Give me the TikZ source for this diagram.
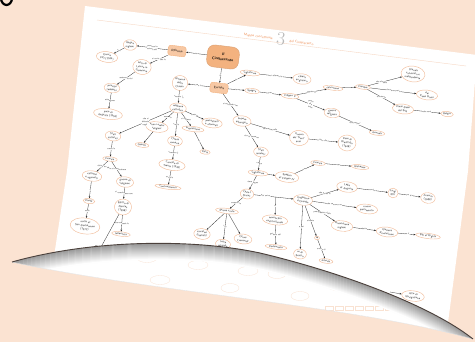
\documentclass[tikz,border=0pt]{standalone}
\usepackage{amsmath}
\usetikzlibrary{shapes.geometric,arrows.meta}

\definecolor{peach}{HTML}{FBE3D2}
\definecolor{ringline}{HTML}{F2BE9C}
\definecolor{softfill}{HTML}{F7C8A4}
\definecolor{bigfill}{HTML}{F3B27F}
\definecolor{titleorange}{HTML}{EE8A4E}
\definecolor{foldline}{HTML}{4B403B}

% fold of the curled page and its lower edge
\newcommand{\foldline}{(12,262) .. controls (90,240) and (190,238) .. (260,253) .. controls (340,272) and (430,305) .. (473,339)}
\newcommand{\curlback}{.. controls (350,305) and (150,292) .. (12,262)}

\tikzset{
  concept/.style={ellipse, draw=ringline, line width=0.45pt, fill=white, inner sep=0.6pt,
    align=center, font=\sffamily\fontsize{2.8}{3.7}\selectfont, text=black!85, rotate=-7},
  mainbox/.style={rounded corners=2.5pt, draw=bigfill, fill=softfill, line width=0.4pt,
    minimum width=18pt, minimum height=10pt, inner sep=1pt,
    font=\sffamily\fontsize{3.2}{3.6}\selectfont, rotate=-7},
  bigbox/.style={rounded corners=7pt, draw=bigfill!90!black, fill=bigfill, line width=0.4pt,
    minimum width=32pt, minimum height=22pt, align=center,
    font=\sffamily\bfseries\fontsize{3.8}{5}\selectfont, rotate=-7},
  link/.style={->, >={Stealth[length=2pt,width=1.5pt]}, line width=0.28pt, black!85},
  lbl/.style={font=\sffamily\fontsize{2.2}{3}\selectfont, fill=white, inner sep=0.2pt,
    align=center, rotate=-7, text=black!80},
  faint/.style={draw=ringline!45, line width=0.3pt},
}

\begin{document}
\begin{tikzpicture}[x=1pt,y=-1pt]
        \useasboundingbox (0,0) rectangle (475,342);

        % Background and sheet
        \fill[peach] (0,0) rectangle (475,342);
        \draw[line width=2.2pt] (6.5,-2) ellipse [x radius=5.5, y radius=7];
        \fill[white] (85,6) -- (477,55) -- (468,171) -- (449,315) -- (445,345)
                     -- (50,345) -- (55,250) -- (67,171) -- cycle;

        % Title
        \draw[ringline!60, line width=0.4pt] (97,20) -- (466,66);
        \node[font=\fontsize{19}{19}\selectfont, text=gray!55, rotate=-7] (num) at (281,39) {3};
        \node[font=\sffamily\fontsize{3.4}{4}\selectfont, text=titleorange, rotate=-7, anchor=east]
             (title) at (276,39) {Mappa concettuale};
        \node[font=\sffamily\fontsize{3.4}{4}\selectfont, text=titleorange, rotate=-7, anchor=west]
             (subtitle) at (286,41) {del Cinquecento};

        % Central nodes
        \node[bigbox] (age) at (223,57) {Il\\Cinquecento};
        \node[mainbox] (rif) at (177,51) {Riforma};
        \node[mainbox] (eur) at (219,88) {Europa};
        \draw[link] (age) -- node[lbl] {in} (rif);
        \draw[link] (age) -- node[lbl] {in} (eur);

        % Riforma branch
        \node[concept] (ing) at (130,45) {Regno\\inglese};
        \node[concept] (enr) at (107,57) {Enrico\\VIII (1534)};
        \node[concept] (lut) at (142,67) {lotta di\\Lutero in\\Germania};
        \node[concept] (pri) at (112,88) {principi\\tedeschi};
        \node[concept] (aug) at (108,114) {pace di\\Augusta (1555)};
        \draw[link] (rif) -- node[lbl] {provoca lo\\scisma del} (ing);
        \draw[link] (ing) -- node[lbl] {con} (enr);
        \draw[link] (rif) -- node[lbl] {si avvia con la} (lut);
        \draw[link] (lut) -- node[lbl] {sostenuta dai} (pri);
        \draw[link] (pri) -- node[lbl] {ottengono} (aug);

        % Chiesa branch
        \node[concept] (cat) at (180,83) {Riforma\\della\\Chiesa};
        \node[concept] (rel) at (178,108) {religione\\cattolica};
        \node[concept] (ted) at (113,136) {Stati\\cattolici};
        \node[concept] (ide) at (157,127) {nuovi ordini\\religiosi};
        \node[concept] (ges) at (142,145) {Gesuiti};
        \node[concept] (chi) at (175,141) {Chiesa\\romana};
        \node[concept] (con) at (172,165) {Concilio di\\Trento (1545)};
        \node[concept] (ctr) at (168,187) {Controriforma};
        \node[concept] (inq) at (193,129) {Inquisizione};
        \node[concept] (ita) at (205,152) {Italia};
        \node[concept] (pro) at (212,123) {protestanti\\e riformati};
        \draw[link] (eur) -- node[lbl] {con la} (cat);
        \draw[link] (cat) -- node[lbl] {rinnova la} (rel);
        \draw[link] (rel) -- node[lbl] {che si\\difende\\negli} (ted);
        \draw[link] (rel) -- node[lbl] {nascono} (ide);
        \draw[link] (ide) -- (ges);
        \draw[link] (rel) -- node[lbl] {con la} (chi);
        \draw[link] (chi) -- node[lbl] {convoca il} (con);
        \draw[link] (con) -- node[lbl] {avvia la} (ctr);
        \draw[link] (rel) -- node[lbl] {si rafforza} (inq);
        \draw[link] (inq) -- node[lbl] {in} (ita);
        \draw[link] (rel) -- node[lbl] {contro} (pro);

        % Francia branch
        \node[concept] (fra) at (110,159) {Francia};
        \node[concept] (ugo) at (92,176) {cattolici\\e ugonotti};
        \node[concept] (gue) at (125,182) {guerre di\\religione};
        \node[concept] (par1) at (89,201) {Parigi};
        \node[concept] (bar) at (85,226) {notte di\\San Bartolomeo\\(1572)};
        \node[concept] (edi) at (123,207) {Editto di\\Nantes\\(1598)};
        \node[concept] (tol) at (121,234) {tolleranza};
        \coordinate (ugl) at (95,258);
        \draw[link] (ted) -- node[lbl] {come la} (fra);
        \draw[link] (fra) -- node[lbl] {divisa tra} (ugo);
        \draw[link] (fra) -- node[lbl] {dove si combattono} (gue);
        \draw[link] (ugo) -- node[lbl] {a} (par1);
        \draw[link] (par1) -- node[lbl] {nella} (bar);
        \draw[link] (gue) -- node[lbl] {si concludono con} (edi);
        \draw[link] (edi) -- node[lbl] {che concede la} (tol);
        \draw[link] (edi) -- node[lbl, pos=0.75] {agli ugonotti} (ugl);

        % Inghilterra and Spagna
        \node[concept] (ingh) at (250,73) {Inghilterra};
        \node[concept] (ang) at (302,79) {chiesa\\anglicana};
        \node[concept] (spg) at (252,91) {Spagna};
        \node[concept] (fil) at (290,96) {Filippo II};
        \node[concept] (cal) at (333,88) {calvinismo};
        \node[concept] (fia) at (363,87) {Fiandre};
        \node[concept] (ola) at (413,74) {Olanda\\calvinista e\\indipendente};
        \node[concept] (pbx) at (427,95) {dei\\Paesi Bassi};
        \node[concept] (pbs) at (403,109) {Paesi Bassi\\del Sud};
        \node[concept] (bel) at (447,114) {Belgio};
        \node[concept] (gr) at (332,113) {guerra\\religiosa};
        \node[concept] (arm) at (377,133) {Armada};
        \draw[link] (eur) -- node[lbl] {in} (ingh);
        \draw[link] (ingh) -- node[lbl] {si afferma la} (ang);
        \draw[link] (eur) -- node[lbl] {in} (spg);
        \draw[link] (spg) -- node[lbl] {con} (fil);
        \draw[link] (fil) -- node[lbl] {contro il} (cal);
        \draw[link] (cal) -- (fia);
        \draw[link] (fia) -- node[lbl, pos=0.4] {che diventa} (ola);
        \draw[link] (fia) -- node[lbl] {che sono parte} (pbx);
        \draw[link] (fia) -- node[lbl] {e restano} (pbs);
        \draw[link] (pbs) -- node[lbl] {che sar\`a} (bel);
        \draw[link] (fil) -- node[lbl] {porta\\alle\\lotte} (gr);
        \draw[link] (gr) -- node[lbl] {che perde l'} (arm);

        % Impero and Stati assoluti
        \node[concept] (imp) at (242,121) {Impero\\asburgico};
        \node[concept] (gta) at (299,138) {Guerra\\dei Trent'\\anni};
        \node[concept] (pw) at (347,143) {Pace di\\Westfalia\\(1648)};
        \node[concept] (sa) at (261,152) {Stati\\assoluti};
        \node[concept] (sp2) at (258,173) {Inghilterra};
        \node[concept] (rin) at (287,177) {Spagna\\di Filippo IV};
        \node[concept] (frn) at (318,163) {Francia};
        \node[concept] (ric) at (360,167) {Richelieu};
        \draw[link] (eur) -- node[lbl] {si conclude con} (imp);
        \draw[link] (imp) -- node[lbl] {coinvolto nella} (gta);
        \draw[link] (gta) -- node[lbl] {fino alla} (pw);
        \draw[link] (imp) -- node[lbl] {da cui nascono} (sa);
        \draw[link] (sa) -- node[lbl] {come} (sp2);
        \draw[link] (sp2) -- node[lbl] {e} (rin);
        \draw[link] (rin) -- node[lbl] {e} (frn);
        \draw[link] (frn) -- node[lbl] {con} (ric);

        % Stuart and Orange
        \node[concept] (car) at (247,194) {Carlo I\\Stuart};
        \node[concept] (gug) at (303,200) {Guglielmo\\d'Orange};
        \node[concept] (mon) at (275,220) {monarchia\\costituzionale};
        \node[concept] (parl) at (276,247) {Parlamento};
        \node[concept] (dov) at (347,187) {Lega\\di Augusta};
        \node[concept] (lui) at (393,193) {Luigi\\XIV};
        \node[concept] (fr2) at (428,198) {Francia\\(1688)};
        \node[concept] (nuo) at (367,209) {nuovo\\parlamento};
        \node[concept] (riv) at (342,226) {Rivoluzione\\inglese};
        \node[concept] (glo) at (387,232) {Gloriosa\\Rivoluzione};
        \node[concept] (bil) at (428,236) {Bill of Rights};
        \node[concept] (re) at (317,238) {re};
        \node[concept] (irl) at (326,261) {Irlanda};
        \node[concept] (sco) at (300,254) {re di\\Scozia};
        \node[concept] (atto) at (413,296) {Atto di\\Navigazione};
        \coordinate (nav) at (390,292);
        \draw[link] (sp2) -- node[lbl] {dove regna} (car);
        \draw[link] (car) -- node[lbl, pos=0.3] {poi arriva} coordinate[pos=0.55] (cg) (gug);
        \draw[link] (cg) -- node[lbl] {al} (mon);
        \draw[link] (mon) -- node[lbl] {guidata dal} (parl);
        \draw[link] (gug) -- node[lbl] {che guida la} (dov);
        \draw[link] (dov) -- node[lbl] {contro} (lui);
        \draw[link] (lui) -- node[lbl] {re di} (fr2);
        \draw[link] (gug) -- node[lbl] {che convoca un} (nuo);
        \draw[link] (gug) -- node[lbl] {protagonista della} (riv);
        \draw[link] (riv) -- node[lbl] {detta} (glo);
        \draw[link] (glo) -- node[lbl] {con il} (bil);
        \draw[link] (gug) -- node[lbl] {diventa} (re);
        \draw[link] (re) -- node[lbl] {anche di} (irl);
        \draw[link] (gug) -- node[lbl] {e poi} (sco);
        \draw[link] (nav) -- (atto);

        % Guerra civile
        \node[concept] (civ) at (227,211) {guerra civile};
        \node[concept] (cav) at (202,234) {cavalieri\\(realisti)};
        \node[concept] (tro) at (223,244) {teste\\rotonde};
        \node[concept] (cro) at (243,239) {Oliver\\Cromwell};
        \draw[link] (car) -- node[lbl] {scoppia la} (civ);
        \draw[link] (civ) -- (cav);
        \draw[link] (civ) -- node[lbl] {tra} (tro);
        \draw[link] (civ) -- (cro);

        % Peach below the curl
        \fill[peach] (0,262) -- (12,262) .. controls (150,292) and (350,305) .. (473,339)
                     -- (475,339) -- (475,342) -- (0,342) -- cycle;

        % Curled corner
        \begin{scope}
          \clip \foldline \curlback -- cycle;
          \fill[white] (0,230) rectangle (475,342);
          \foreach \cx/\cy/\rw in {93/252/8, 147/258/10, 198/265/10, 248/271/10, 277/274/9,
                                   337/286/9, 380/292/8, 300/296/9, 230/288/9, 160/280/10}
            \draw[faint] (\cx,\cy) ellipse [x radius=\rw, y radius=4.5];
          \foreach \cx in {325,335,...,425}
            \draw[faint] (\cx,306) rectangle ++(8,4);
          \foreach \k in {0,...,16}{
            \pgfmathsetmacro{\g}{42-2.6*\k}
            \draw[black!\g, line width=1.3pt, yshift=-\k pt] \foldline;
          }
        \end{scope}
        \draw[gray!25, line width=0.3pt] (12,262) .. controls (150,292) and (350,305) .. (473,339);
        \draw[foldline, line width=0.9pt] \foldline;
    \end{tikzpicture}
\end{document}
